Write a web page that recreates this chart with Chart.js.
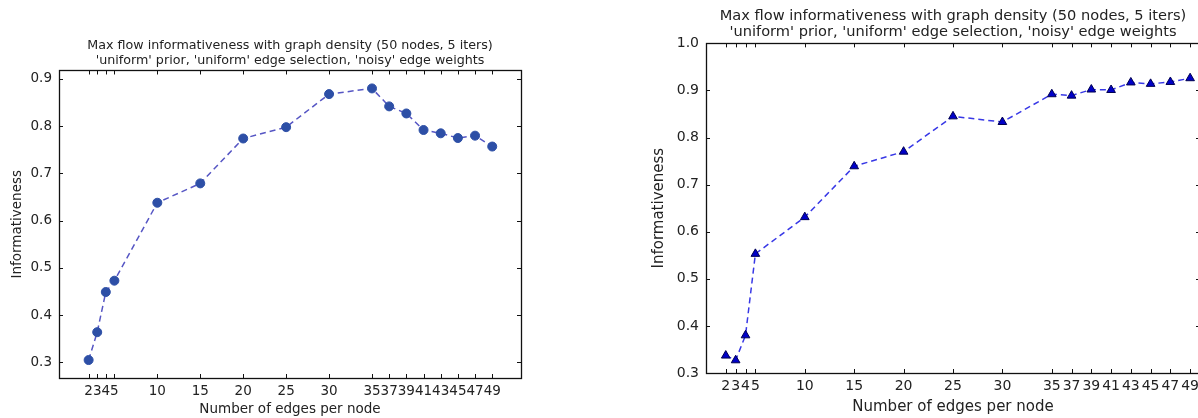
<!DOCTYPE html>
<html>
<head>
<meta charset="utf-8">
<script src="https://cdn.jsdelivr.net/npm/chart.js@4/dist/chart.umd.min.js"></script>
<style>
  html, body { margin:0; padding:0; background:#fff; overflow:hidden; }
  body { width:1198px; height:418px; position:relative; }
  .box { position:absolute; top:0; height:418px; }
  #leftBox { left:0; width:540px; }
  #rightBox { left:600px; width:610px; }
</style>
</head>
<body>
<div class="box" id="leftBox"><canvas id="leftChart"></canvas></div>
<div class="box" id="rightBox"><canvas id="rightChart"></canvas></div>
<script>
// edges per node (x) and the two measured series
const edgesPerNode = [2, 3, 4, 5, 10, 15, 20, 25, 30, 35, 37, 39, 41, 43, 45, 47, 49];
const infoCircle = [0.305, 0.364, 0.449, 0.473, 0.638, 0.679, 0.774, 0.798, 0.868, 0.880, 0.842, 0.827, 0.792, 0.785, 0.775, 0.780, 0.757];
const infoTriangle = [0.337, 0.327, 0.380, 0.553, 0.631, 0.739, 0.770, 0.845, 0.833, 0.892, 0.889, 0.902, 0.901, 0.917, 0.914, 0.918, 0.926];
const yTicksLeft = [0.3, 0.4, 0.5, 0.6, 0.7, 0.8, 0.9];
const yTicksRight = [0.3, 0.4, 0.5, 0.6, 0.7, 0.8, 0.9, 1.0];
const titleLines = ["Max flow informativeness with graph density (50 nodes, 5 iters)",
                    "'uniform' prior, 'uniform' edge selection, 'noisy' edge weights"];

const FONT = "'DejaVu Sans', sans-serif";
const TXT = '#222';

// frame + inward ticks on all four sides (matplotlib classic look)
const framePlugin = {
  id: 'frame',
  afterDatasetsDraw(chart) {
    const {ctx, chartArea: a, scales} = chart;
    const len = 4;
    ctx.save();
    ctx.strokeStyle = '#111';
    ctx.lineWidth = 1;
    ctx.beginPath();
    scales.x.ticks.forEach(t => {
      const px = Math.round(scales.x.getPixelForValue(t.value)) + 0.5;
      ctx.moveTo(px, a.bottom); ctx.lineTo(px, a.bottom - len);
      ctx.moveTo(px, a.top); ctx.lineTo(px, a.top + len);
    });
    scales.y.ticks.forEach(t => {
      const py = Math.round(scales.y.getPixelForValue(t.value)) + 0.5;
      ctx.moveTo(a.left, py); ctx.lineTo(a.left + len, py);
      ctx.moveTo(a.right, py); ctx.lineTo(a.right - len, py);
    });
    ctx.stroke();
    ctx.lineWidth = 1.3;
    ctx.strokeRect(Math.round(a.left) + 0.5, Math.round(a.top) + 0.5,
                   Math.round(a.right - a.left), Math.round(a.bottom - a.top));
    ctx.restore();
  }
};

function makeChart(id, cfg) {
  const data = edgesPerNode.map((x, i) => ({x, y: cfg.values[i]}));
  return new Chart(document.getElementById(id), {
    type: 'line',
    data: { datasets: [{
      data,
      borderColor: cfg.lineColor,
      borderWidth: 1.5,
      borderDash: [6, 4],
      pointStyle: cfg.pointStyle,
      pointRadius: cfg.pointRadius,
      pointBackgroundColor: cfg.markerColor,
      pointBorderColor: cfg.markerEdge,
      pointBorderWidth: 1,
      tension: 0
    }]},
    options: {
      responsive: false,
      animation: false,
      layout: { padding: { top: 0, right: cfg.padRight, left: 0, bottom: 0 } },
      plugins: {
        legend: { display: false },
        tooltip: { enabled: false },
        title: {
          display: true,
          fullSize: false,
          text: titleLines,
          color: TXT,
          font: { family: FONT, size: cfg.titleSize, weight: 'normal', lineHeight: cfg.titleLH },
          padding: { top: cfg.titleTop, bottom: cfg.titleBottom }
        }
      },
      scales: {
        x: {
          type: 'linear',
          min: cfg.xMin, max: cfg.xMax,
          grid: { display: false, drawTicks: false },
          border: { display: false },
          afterBuildTicks: s => { s.ticks = edgesPerNode.map(v => ({value: v})); },
          afterFit: s => { s.height = cfg.xAxisH; },
          ticks: { autoSkip: false, maxRotation: 0, padding: cfg.xTickPad, color: TXT,
                   font: { family: FONT, size: cfg.tickSize }, callback: v => String(v) },
          title: { display: true, text: 'Number of edges per node', color: TXT,
                   font: { family: FONT, size: cfg.axisTitleSize, lineHeight: 1.2 },
                   padding: { top: 0, bottom: cfg.xTitlePad } }
        },
        y: {
          min: cfg.yMin, max: cfg.yMax,
          grid: { display: false, drawTicks: false },
          border: { display: false },
          afterBuildTicks: s => { s.ticks = cfg.yTicks.map(v => ({value: v})); },
          afterFit: s => { s.width = cfg.yAxisW; },
          ticks: { padding: cfg.yTickPad, color: TXT,
                   font: { family: FONT, size: cfg.tickSize }, callback: v => v.toFixed(1) },
          title: { display: true, text: 'Informativeness', color: TXT,
                   font: { family: FONT, size: cfg.axisTitleSize, lineHeight: 1.2 },
                   padding: { top: cfg.yTitlePad, bottom: 0 } }
        }
      }
    },
    plugins: [framePlugin]
  });
}

document.getElementById('leftChart').width = 540;
document.getElementById('leftChart').height = 418;
document.getElementById('rightChart').width = 610;
document.getElementById('rightChart').height = 418;

makeChart('leftChart', {
  values: infoCircle, yTicks: yTicksLeft,
  xMin: -1.45, xMax: 52.35, yMin: 0.267, yMax: 0.918,
  lineColor: '#5656c4', markerColor: '#2d4fa6', markerEdge: '#2d4fa6',
  pointStyle: 'circle', pointRadius: 4.5,
  padRight: 19, titleTop: 38, titleBottom: 2, titleSize: 12.7, titleLH: 1.2,
  xAxisH: 40, yAxisW: 59, tickSize: 13.5, axisTitleSize: 13.5,
  xTickPad: 5, yTickPad: 7, xTitlePad: 0, yTitlePad: 9
});

makeChart('rightChart', {
  values: infoTriangle, yTicks: yTicksRight,
  xMin: 0, xMax: 50, yMin: 0.3, yMax: 1.0,
  lineColor: '#3838e6', markerColor: '#0000c8', markerEdge: '#000050',
  pointStyle: 'triangle', pointRadius: 5,
  padRight: 10, titleTop: 9, titleBottom: 4, titleSize: 14.6, titleLH: 1.04,
  xAxisH: 45, yAxisW: 106, tickSize: 14, axisTitleSize: 15,
  xTickPad: 5, yTickPad: 7, xTitlePad: 2, yTitlePad: 50
});
</script>
</body>
</html>
